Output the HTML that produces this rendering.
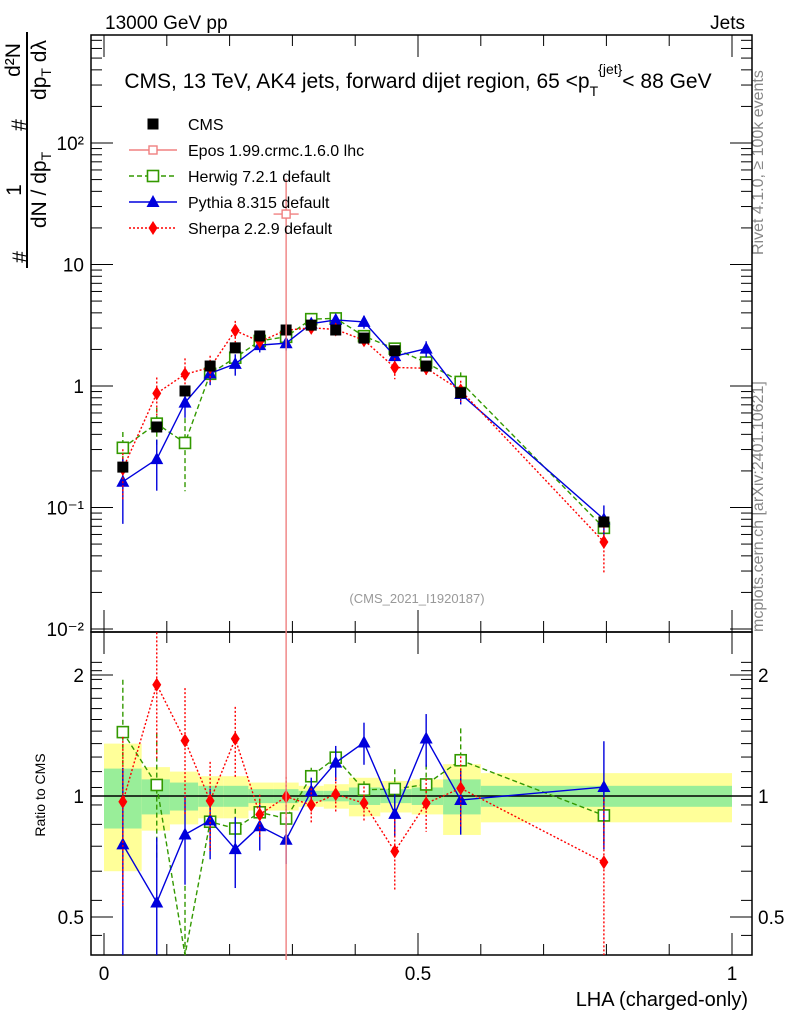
<!DOCTYPE html>
<html><head><meta charset="utf-8"><style>
body{margin:0;background:#fff;}
svg{font-family:"Liberation Sans",sans-serif;}
</style></head><body>
<svg id="c" width="786" height="1024" xmlns="http://www.w3.org/2000/svg">
<text x="105" y="29" font-size="19">13000 GeV pp</text>
<text x="745" y="29" font-size="19" text-anchor="end">Jets</text>
<text x="418" y="88" font-size="21" text-anchor="middle">CMS, 13 TeV, AK4 jets, forward dijet region, 65 &lt;p<tspan font-size="14" dy="8">T</tspan><tspan font-size="14" dy="-22">{jet}</tspan><tspan dy="14">&lt; 88 GeV</tspan></text>
<g transform="rotate(-90)" font-size="21">
<text x="-257" y="27" text-anchor="middle">#</text>
<text x="-190" y="21" text-anchor="middle">1</text>
<line x1="-268" y1="27" x2="-32" y2="27" stroke="#000" stroke-width="2"/>
<text x="-190" y="46" text-anchor="middle">dN / dp<tspan font-size="14" dy="5">T</tspan></text>
<text x="-125" y="26" text-anchor="middle">#</text>
<text x="-60" y="20" text-anchor="middle">d²N</text>
<text x="-70" y="46" text-anchor="middle">dp<tspan font-size="14" dy="5">T</tspan><tspan dy="-5"> dλ</tspan></text>
</g>
<text transform="translate(763,255) rotate(-90)" font-size="16" fill="#888">Rivet 4.1.0, ≥ 100k events</text>
<text transform="translate(763,632) rotate(-90)" font-size="16" fill="#888">mcplots.cern.ch [arXiv:2401.10621]</text>
<text x="417" y="603" font-size="13" fill="#999" text-anchor="middle">(CMS_2021_I1920187)</text>
<text transform="translate(45,795) rotate(-90)" font-size="14" text-anchor="middle">Ratio to CMS</text>
<text x="748" y="1006" font-size="20" text-anchor="end">LHA (charged-only)</text>
<g id="bands"></g><g id="axes"></g><g id="series"></g><g id="legend"></g>
</svg>
<script>
const xs=[0.030,0.084,0.129,0.169,0.209,0.248,0.290,0.330,0.369,0.414,0.463,0.513,0.568,0.796];
const edges=[0,0.06,0.105,0.15,0.19,0.23,0.27,0.31,0.35,0.39,0.44,0.49,0.54,0.6,1.0];
const cms=[0.215,0.46,0.91,1.46,2.06,2.58,2.89,3.17,2.89,2.48,1.95,1.46,0.88,0.076];
const bandTot=[0.35,0.18,0.15,0.12,0.12,0.08,0.08,0.06,0.07,0.11,0.09,0.1,0.2,0.14];
const bandStat=[0.17,0.1,0.08,0.06,0.06,0.04,0.04,0.03,0.03,0.05,0.04,0.05,0.1,0.06];
const herwig=[0.31,0.49,0.34,1.26,1.71,2.35,2.54,3.55,3.6,2.57,2.03,1.56,1.08,0.068];
const herwigErr=[0.35,0.35,0.6,0.15,0.12,0.08,0.08,0.05,0.05,0.05,0.12,0.12,0.2,0.15];
const pythia=[0.163,0.25,0.73,1.27,1.52,2.17,2.25,3.26,3.5,3.37,1.76,2.03,0.86,0.080];
const pythiaErr=[0.55,0.45,0.25,0.2,0.2,0.13,0.13,0.08,0.1,0.12,0.12,0.15,0.18,0.3];
const sherpa=[0.208,0.87,1.25,1.42,2.86,2.32,2.88,3.01,2.92,2.38,1.42,1.40,0.92,0.052];
const sherpaErr=[0.45,0.35,0.35,0.25,0.2,0.12,0.12,0.1,0.1,0.1,0.2,0.15,0.2,0.45];
const eposX=[0.290], eposY=[26], eposErr=[0.95], eposXErr=[0.02];
const NS='http://www.w3.org/2000/svg';
const X=v=>104+628*v;
const Y=v=>386-121.5*Math.log10(v);
const R=v=>796-402*Math.log10(v);
function el(p,t,a){const e=document.createElementNS(NS,t);for(const k in a)e.setAttribute(k,a[k]);document.getElementById(p).appendChild(e);return e;}
for(let i=0;i<xs.length;i++){
 const e0=X(edges[i]),e1=X(edges[i+1]);
 let r=el('bands','rect',{x:e0,y:R(1+bandTot[i]),width:e1-e0,height:R(1-bandTot[i])-R(1+bandTot[i]),fill:'#ffff99'});
 
 
 r=el('bands','rect',{x:e0,y:R(1+bandStat[i]),width:e1-e0,height:R(1-bandStat[i])-R(1+bandStat[i]),fill:'#99ee99'});
 
 
}
let f=el('axes','rect',{x:91,y:35,width:661,height:597,fill:'none',stroke:'#000','stroke-width':1.5});


f=el('axes','rect',{x:91,y:632,width:661,height:323,fill:'none',stroke:'#000','stroke-width':1.5});


el('axes','line',{x1:91,x2:752,y1:R(1),y2:R(1),stroke:'#000','stroke-width':1.5});
for(let d=-2;d<=2;d++){for(let m=1;m<10;m++){const v=m*Math.pow(10,d);const y=Y(v);if(y<35||y>632)continue;const L=m==1?22:11;
 el('axes','line',{x1:91,x2:91+L,y1:y,y2:y,stroke:'#000'});el('axes','line',{x1:752,x2:752-L,y1:y,y2:y,stroke:'#000'});}}
const mainLabels=[[100,'10²'],[10,'10'],[1,'1'],[0.1,'10⁻¹'],[0.01,'10⁻²']];
mainLabels.forEach(([v,t])=>{const e=el('axes','text',{x:84,y:Y(v)+7,'font-size':19,'text-anchor':'end'});e.textContent=t;});
for(let v=0.45;v<=2.25;v+=0.1){const y=R(v);if(y<632||y>955)continue;el('axes','line',{x1:91,x2:102,y1:y,y2:y,stroke:'#000'});el('axes','line',{x1:752,x2:741,y1:y,y2:y,stroke:'#000'});}
[0.5,1,2].forEach(v=>{const y=R(v);el('axes','line',{x1:91,x2:113,y1:y,y2:y,stroke:'#000'});el('axes','line',{x1:752,x2:730,y1:y,y2:y,stroke:'#000'});
 ['l','r'].forEach(s=>{const e=el('axes','text',{x:s=='l'?84:758,y:y+7,'font-size':19,'text-anchor':s=='l'?'end':'start'});e.textContent=v;});});
for(let i=0;i<=10;i++){const x=X(i/10);const L=i%5==0?22:11;
 [[35,1],[632,1],[632,-1],[955,-1]].forEach(([y0,s])=>el('axes','line',{x1:x,x2:x,y1:y0,y2:y0+s*L,stroke:'#000'}));}
[[0,'0'],[0.5,'0.5'],[1,'1']].forEach(([v,t])=>{const e=el('axes','text',{x:X(v),y:980,'font-size':19,'text-anchor':'middle'});e.textContent=t;});
function marker(g,type,x,y,c){
 if(type=='sq')return el(g,'rect',{x:x-5.5,y:y-5.5,width:11,height:11,fill:c});
 if(type=='osq')return el(g,'rect',{x:x-5.5,y:y-5.5,width:11,height:11,fill:'#fff',stroke:c,'stroke-width':1.6});
 if(type=='tri')return el(g,'polygon',{points:`${x},${y-7} ${x-6.5},${y+5} ${x+6.5},${y+5}`,fill:c});
 if(type=='dia')return el(g,'polygon',{points:`${x},${y-7} ${x-4.5},${y} ${x},${y+7} ${x+4.5},${y}`,fill:c});
}
function clipY(y,lo,hi){return Math.max(lo,Math.min(hi,y));}
function series(vals,errs,color,dash,type,name){
 const pm=[],pr=[];
 vals.forEach((v,i)=>{pm.push(X(xs[i])+','+Y(v));pr.push(X(xs[i])+','+clipY(R(v/cms[i]),632,955));});
 let p=el('series','polyline',{points:pm.join(' '),fill:'none',stroke:color,'stroke-width':1.4,'stroke-dasharray':dash});
 
 p=el('series','polyline',{points:pr.join(' '),fill:'none',stroke:color,'stroke-width':1.4,'stroke-dasharray':dash});
 
 vals.forEach((v,i)=>{const x=X(xs[i]);const lo=Math.max(v*(1-errs[i]),1e-3),hi=v*(1+errs[i]);
  el('series','line',{x1:x,x2:x,y1:clipY(Y(hi),35,632),y2:clipY(Y(lo),35,632),stroke:color,'stroke-width':1.4,'stroke-dasharray':dash});
  const r=v/cms[i];
  el('series','line',{x1:x,x2:x,y1:clipY(R(r*(1+errs[i])),632,955),y2:clipY(R(Math.max(r*(1-errs[i]),0.01)),632,955),stroke:color,'stroke-width':1.4,'stroke-dasharray':dash});
  let m=marker('series',type,x,Y(v),color);
  const ry=R(r);if(ry>=632&&ry<=955){m=marker('series',type,x,ry,color);}
 });
}
series(herwig,herwigErr,'#339900','5,3','osq','herwig');
series(pythia,pythiaErr,'#0000dd','','tri','pythia');
series(sherpa,sherpaErr,'#ff0000','2,2','dia','sherpa');
cms.forEach((v,i)=>{const m=marker('series','sq',X(xs[i]),Y(v),'#000');});
eposX.forEach((xv,i)=>{const x=X(xv),y=Y(eposY[i]);
 let l=el('series','line',{x1:x,x2:x,y1:Y(eposY[i]*(1+eposErr[i])),y2:960,stroke:'#f08080','stroke-width':1.4});
 
 el('series','line',{x1:X(xv-eposXErr[i]),x2:X(xv+eposXErr[i]),y1:y,y2:y,stroke:'#f08080','stroke-width':1.4});
 const m=el('series','rect',{x:x-4,y:y-4,width:8,height:8,fill:'#fff',stroke:'#f08080','stroke-width':1.4});
 
});
const leg=[['CMS','#000','','sq'],['Epos 1.99.crmc.1.6.0 lhc','#f08080','','ep'],['Herwig 7.2.1 default','#339900','5,3','osq'],['Pythia 8.315 default','#0000dd','','tri'],['Sherpa 2.2.9 default','#ff0000','2,2','dia']];
leg.forEach(([t,c,d,ty],i)=>{const y=124+26*i;const x=153;
 if(ty!='sq')el('legend','line',{x1:129,x2:177,y1:y,y2:y,stroke:c,'stroke-width':1.4,'stroke-dasharray':d});
 if(ty=='ep'){el('legend','rect',{x:x-4,y:y-4,width:8,height:8,fill:'#fff',stroke:c,'stroke-width':1.4});}
 else marker('legend',ty,x,y,c);
 const e=el('legend','text',{x:188,y:y+6,'font-size':16});e.textContent=t;
 
 
});
</script>
</body></html>
